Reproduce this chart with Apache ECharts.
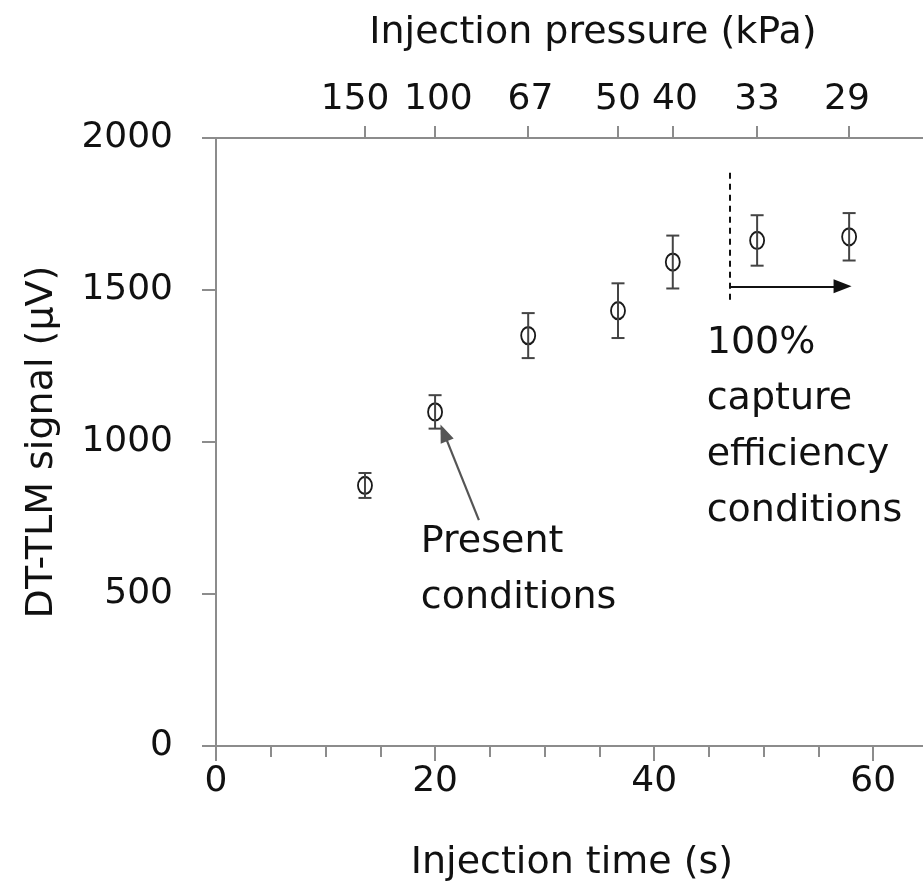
<!DOCTYPE html>
<html>
<head>
<meta charset="utf-8">
<script src="https://cdn.jsdelivr.net/npm/echarts@6/dist/echarts.min.js"></script>
<style>
  html, body { margin: 0; padding: 0; background: #fff; }
  #chart { width: 923px; height: 892px; }
</style>
</head>
<body>
<div id="chart"></div>
<script>
// data
var injectionTime = [13.6, 20.0, 28.5, 36.7, 41.7, 49.4, 57.8];
var signal = [857, 1099, 1350, 1432, 1592, 1663, 1675];
var signalErr = [41, 55, 74, 90, 87, 83, 78];
var pressureLabels = ['150', '100', '67', '50', '40', '33', '29'];
// where the pressure labels sit along the time axis (slightly off the ticks in the original)
var pressureLabelAt = [12.7, 20.3, 28.7, 36.7, 41.9, 49.4, 57.6];
var yTicks = [0, 500, 1000, 1500, 2000];

// annotation anchors (data coords)
var presentArrow = [[24.0, 743], [20.8, 1030]];
var captureDash = [[46.9, 1886], [46.9, 1452]];
var captureArrow = [[46.9, 1512], [57.2, 1512]];
var presentText = [18.7, 580];
var captureText = [44.8, 1048];

var FONT = 'DejaVu Sans';
var axisGray = '#8c8c8c';
var txt = '#111';

var chart = echarts.init(document.getElementById('chart'));

var points = injectionTime.map(function (t, i) { return [t, signal[i], signalErr[i]]; });

var option = {
  animation: false,
  backgroundColor: '#fff',
  textStyle: { fontFamily: FONT, color: txt },
  grid: { left: 216, right: -5, top: 138, bottom: 146, outerBoundsMode: 'none', containLabel: false },
  xAxis: [{
    type: 'value', position: 'bottom', min: 0, max: 65, interval: 20,
    name: 'Injection time (s)', nameLocation: 'middle', nameGap: 98,
    nameTextStyle: { fontFamily: FONT, fontSize: 38, color: txt },
    axisLine: { onZero: false, lineStyle: { color: axisGray, width: 2 } },
    axisTick: { inside: false, length: 15, lineStyle: { color: axisGray, width: 2 } },
    minorTick: { show: true, splitNumber: 4, length: 11, lineStyle: { color: axisGray, width: 2 } },
    axisLabel: { fontFamily: FONT, fontSize: 36, color: txt, margin: 18, showMaxLabel: false },
    splitLine: { show: false }
  }, {
    type: 'value', position: 'top', min: 0, max: 65,
    name: 'Injection pressure (kPa)', nameLocation: 'middle', nameGap: 86,
    nameTextStyle: { fontFamily: FONT, fontSize: 38, color: txt, padding: [0, 0, 0, 42] },
    axisLine: { onZero: false, lineStyle: { color: axisGray, width: 2 } },
    axisTick: { show: true, length: 12, customValues: injectionTime, lineStyle: { color: axisGray, width: 2 } },
    axisLabel: {
      show: true, fontFamily: FONT, fontSize: 36, color: txt, margin: 20,
      customValues: pressureLabelAt,
      formatter: function (v) {
        var i = pressureLabelAt.indexOf(v);
        return i >= 0 ? pressureLabels[i] : '';
      }
    },
    splitLine: { show: false }
  }],
  yAxis: {
    type: 'value', min: yTicks[0], max: yTicks[yTicks.length - 1], interval: 500,
    name: 'DT-TLM signal (μV)', nameLocation: 'middle', nameGap: 155,
    nameTextStyle: { fontFamily: FONT, fontSize: 38, color: txt },
    axisLine: { show: true, lineStyle: { color: axisGray, width: 2 } },
    axisTick: { show: true, length: 14, lineStyle: { color: axisGray, width: 2 } },
    axisLabel: {
      fontFamily: FONT, fontSize: 36, color: txt, margin: 43,
      formatter: function (v) { return String(v); }
    },
    splitLine: { show: false }
  },
  series: [{
    type: 'scatter',
    data: points,
    symbol: 'emptyCircle',
    symbolSize: [14, 17],
    itemStyle: { color: '#1a1a1a', borderWidth: 2, opacity: 1 },
    z: 2,
    markLine: {
      silent: true,
      symbol: ['none', 'triangle'],
      symbolSize: [14, 18],
      label: { show: false },
      data: [
        [{ coord: presentArrow[0], lineStyle: { color: '#555', width: 2.2, type: 'solid' } }, { coord: presentArrow[1] }],
        [{ coord: captureArrow[0], lineStyle: { color: '#111', width: 2, type: 'solid' } }, { coord: captureArrow[1] }],
        [{ coord: captureDash[0], symbol: 'none', lineStyle: { color: '#111', width: 2, type: [6, 5] } },
         { coord: captureDash[1], symbol: 'none' }]
      ]
    },
    markPoint: {
      silent: true,
      symbol: 'circle', symbolSize: 0,
      label: {
        show: true, position: 'right', distance: 0, align: 'left',
        fontFamily: FONT, fontSize: 38, color: txt, lineHeight: 56
      },
      data: [
        { coord: presentText, label: { formatter: 'Present\nconditions' } },
        { coord: captureText, label: { formatter: '100%\ncapture\nefficiency\nconditions' } }
      ]
    }
  }, {
    type: 'custom',
    data: points,
    z: 3,
    renderItem: function (params, api) {
      var x = api.value(0), y = api.value(1), e = api.value(2);
      var top = api.coord([x, y + e]);
      var bot = api.coord([x, y - e]);
      var hw = 6.5;
      var st = { stroke: '#444', lineWidth: 2 };
      return {
        type: 'group',
        children: [
          { type: 'line', shape: { x1: top[0], y1: top[1], x2: bot[0], y2: bot[1] }, style: st },
          { type: 'line', shape: { x1: top[0] - hw, y1: top[1], x2: top[0] + hw, y2: top[1] }, style: st },
          { type: 'line', shape: { x1: bot[0] - hw, y1: bot[1], x2: bot[0] + hw, y2: bot[1] }, style: st }
        ]
      };
    }
  }]
};

chart.setOption(option);
</script>
</body>
</html>
